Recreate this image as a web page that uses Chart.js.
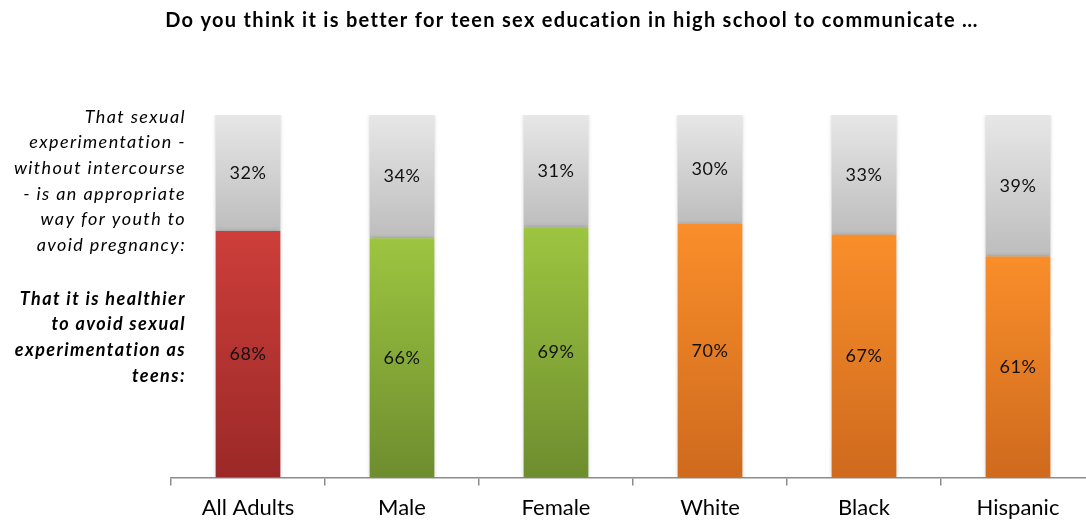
<!DOCTYPE html>
<html>
<head>
<meta charset="utf-8">
<script src="https://cdn.jsdelivr.net/npm/chart.js@4/dist/chart.umd.min.js"></script>
<style>
  html, body { margin: 0; padding: 0; background: #fff; overflow: hidden; }
  #wrap { width: 1096px; height: 530px; }
</style>
</head>
<body>
<div id="wrap"><canvas id="chart"></canvas></div>
<script>
const categories = ['All Adults', 'Male', 'Female', 'White', 'Black', 'Hispanic']
const healthier = [68, 66, 69, 70, 67, 61]
const experimentation = [32, 34, 31, 30, 33, 39]
const barColors = ['red', 'green', 'green', 'orange', 'orange', 'orange']

const title = 'Do you think it is better for teen sex education in high school to communicate \u2026'
const topLabel = ['That sexual', 'experimentation -', 'without intercourse', '- is an appropriate', 'way for youth to', 'avoid pregnancy:']
const bottomLabel = ['That it is healthier', 'to avoid sexual', 'experimentation as', 'teens:']

const palette = {
  red: ['#CD3E3A', '#9B2927'],
  green: ['#9DC540', '#6E8D2F'],
  orange: ['#F98E2A', '#CF6A1E'],
  grey: ['#E7E7E7', '#BDBDBD']
}
const FONT = 'Lato, "Open Sans", sans-serif'

function grad(c, colors, from, to) {
  const chart = c.chart
  if (!chart.chartArea) return colors[0]
  const y = chart.scales.y
  const g = chart.ctx.createLinearGradient(0, y.getPixelForValue(from), 0, y.getPixelForValue(to))
  g.addColorStop(0, colors[0])
  g.addColorStop(1, colors[1])
  return g
}

const textPlugin = {
  id: 'texts',
  afterDraw(chart) {
    const ctx = chart.ctx
    ctx.save()
    ctx.fillStyle = '#000'
    ctx.textBaseline = 'middle'
    ctx.textAlign = 'center'
    ctx.font = 'bold 20px ' + FONT
    ctx.letterSpacing = '1.3px'
    ctx.fillText(title, 572, 21)

    ctx.textAlign = 'right'
    ctx.font = 'italic 18px ' + FONT
    ctx.letterSpacing = '1.4px'
    topLabel.forEach((t, i) => ctx.fillText(t, 186, 117 + i * 25.6))
    ctx.font = 'italic bold 18px ' + FONT
    bottomLabel.forEach((t, i) => ctx.fillText(t, 186, 299 + i * 25.6))

    // values in the middle of each segment
    ctx.textAlign = 'center'
    ctx.font = '18px ' + FONT
    ctx.letterSpacing = '0.6px'
    ctx.fillStyle = '#111'
    chart.data.datasets.forEach((ds, di) => {
      chart.getDatasetMeta(di).data.forEach((bar, i) => {
        const p = bar.getProps(['x', 'y', 'base'], true)
        ctx.fillText(ds.data[i] + '%', p.x, (p.y + p.base) / 2)
      })
    })
    ctx.restore()
  }
}

const shadowPlugin = {
  id: 'shadow',
  beforeDatasetsDraw(chart) {
    const ctx = chart.ctx
    ctx.save()
    ctx.shadowColor = 'rgba(0,0,0,0.22)'
    ctx.shadowBlur = 4
  },
  afterDatasetsDraw(chart) {
    chart.ctx.restore()
  }
}

new Chart(document.getElementById('chart'), {
  type: 'bar',
  data: {
    labels: categories,
    datasets: [
      {
        label: 'That it is healthier to avoid sexual experimentation as teens',
        data: healthier,
        backgroundColor: c => grad(c, palette[barColors[c.dataIndex]], healthier[c.dataIndex], 0),
        borderWidth: 0
      },
      {
        label: 'That sexual experimentation is an appropriate way to avoid pregnancy',
        data: experimentation,
        backgroundColor: c => grad(c, palette.grey, 100, healthier[c.dataIndex]),
        borderWidth: 0
      }
    ]
  },
  options: {
    responsive: true,
    maintainAspectRatio: false,
    animation: false,
    layout: { padding: { left: 171, right: 1, top: 115, bottom: 0 } },
    plugins: {
      legend: { display: false },
      tooltip: { enabled: false }
    },
    datasets: {
      bar: { categoryPercentage: 1, barPercentage: 0.42 }
    },
    scales: {
      x: {
        stacked: true,
        grid: { drawOnChartArea: false, tickLength: 8, color: '#8c8c8c', lineWidth: 1.5 },
        border: { color: '#8c8c8c', width: 1.5 },
        ticks: { color: '#000', font: { family: FONT, size: 22 }, padding: 9 }
      },
      y: {
        stacked: true,
        display: false,
        min: 0,
        max: 100
      }
    }
  },
  plugins: [shadowPlugin, textPlugin]
})
</script>
</body>
</html>
